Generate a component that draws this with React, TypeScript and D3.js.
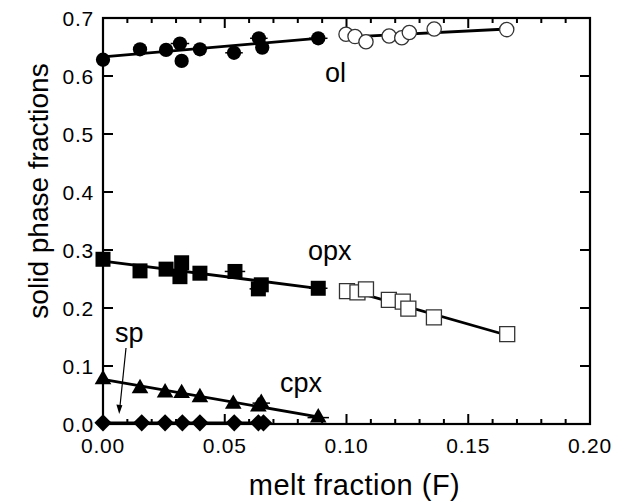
import React from "react";
import * as d3 from "d3";

// ---- data ----
const olFilledX = [0, 0.0152, 0.0259, 0.0316, 0.0323, 0.0398, 0.0538, 0.064, 0.0654, 0.0884];
const olFilledY = [0.628, 0.646, 0.645, 0.656, 0.626, 0.646, 0.64, 0.665, 0.649, 0.665];
const olFilledErr = [0, 0, 0, 0.0038, 0, 0, 0.0036, 0.0036, 0, 0.0038];
const olOpenX = [0.0998, 0.1035, 0.108, 0.1175, 0.1227, 0.1258, 0.136, 0.1658];
const olOpenY = [0.672, 0.668, 0.659, 0.669, 0.666, 0.675, 0.681, 0.68];

const opxFilledX = [0, 0.0152, 0.0259, 0.0323, 0.0316, 0.0398, 0.0542, 0.0638, 0.065, 0.0884];
const opxFilledY = [0.284, 0.264, 0.267, 0.278, 0.254, 0.26, 0.263, 0.233, 0.24, 0.234];
const opxFilledErr = [0, 0, 0, 0, 0, 0, 0.0042, 0.0036, 0, 0.0038];
const opxOpenX = [0.1002, 0.1045, 0.108, 0.1174, 0.1231, 0.1254, 0.1359, 0.166];
const opxOpenY = [0.229, 0.227, 0.232, 0.214, 0.211, 0.199, 0.184, 0.155];

const cpxX = [0, 0.0152, 0.0255, 0.0323, 0.0398, 0.0535, 0.0638, 0.065, 0.0884];
const cpxY = [0.077, 0.0615, 0.054, 0.053, 0.046, 0.0345, 0.03, 0.036, 0.011];
const cpxErr = [0, 0, 0, 0, 0, 0, 0, 0.0036, 0.0044];

const spX = [0, 0.0159, 0.0255, 0.0326, 0.0398, 0.0539, 0.0638, 0.0659];
const spY = [0.002, 0.002, 0.002, 0.002, 0.002, 0.002, 0.002, 0.002];

const olFitFilled: [number, number][] = [[0, 0.633], [0.088, 0.665]];
const olFitOpen: [number, number][] = [[0.1, 0.667], [0.166, 0.681]];
const opxFitFilled: [number, number][] = [[0, 0.281], [0.088, 0.234]];
const opxFitOpen: [number, number][] = [[0.1, 0.232], [0.166, 0.153]];
const cpxFit: [number, number][] = [[0, 0.077], [0.09, 0.011]];
const spFit: [number, number][] = [[0, 0.002], [0.066, 0.002]];

const xTicks = [0, 0.05, 0.1, 0.15, 0.2];
const xTickLabels = ["0.00", "0.05", "0.10", "0.15", "0.20"];
const yTicks = [0, 0.1, 0.2, 0.3, 0.4, 0.5, 0.6, 0.7];
const yTickLabels = ["0.0", "0.1", "0.2", "0.3", "0.4", "0.5", "0.6", "0.7"];

const xTitle = "melt fraction (F)";
const yTitle = "solid phase fractions";

// ---- layout ----
const W = 625, H = 502;
const L = 103, R = 590, T = 18, B = 424;
const FONT = "'Liberation Sans', Arial, Helvetica, sans-serif";

export default function App() {
  const x = d3.scaleLinear().domain([0, 0.2]).range([L, R]);
  const y = d3.scaleLinear().domain([0, 0.7]).range([B, T]);
  const line = d3.line<[number, number]>().x(d => x(d[0])).y(d => y(d[1]));

  const circ = d3.symbol(d3.symbolCircle, 160)()!;
  const sq = d3.symbol(d3.symbolSquare, 225)()!;
  const tri = d3.symbol(d3.symbolTriangle, 120)()!;
  const dia = d3.symbol(d3.symbolDiamond2, 190)()!;

  const minorX = d3.range(0, 21).map(i => i / 100);

  const errBars = (xs: number[], ys: number[], es: number[]) =>
    xs.map((v, i) =>
      es[i] > 0 ? (
        <line key={i} x1={x(v - es[i])} x2={x(v + es[i])} y1={y(ys[i])} y2={y(ys[i])}
          stroke="#000" strokeWidth={1.5} />
      ) : null
    );

  const markers = (xs: number[], ys: number[], path: string, fill: string, stroke = "none", sw = 0) =>
    xs.map((v, i) => (
      <path key={i} d={path} transform={`translate(${x(v)},${y(ys[i])})`} fill={fill}
        stroke={stroke} strokeWidth={sw} />
    ));

  return (
    <svg width={W} height={H} style={{ position: "absolute", left: 0, top: 0, background: "#fff" }}
      fontFamily={FONT}>
      <rect x={0} y={0} width={W} height={H} fill="#fff" />
      {/* ticks */}
      {minorX.map((t, i) => {
        const major = i % 5 === 0;
        const len = major ? 10 : 5;
        return (
          <g key={i}>
            <line x1={x(t)} x2={x(t)} y1={B} y2={B - len} stroke="#000" strokeWidth={2} />
            <line x1={x(t)} x2={x(t)} y1={T} y2={T + len} stroke="#000" strokeWidth={2} />
          </g>
        );
      })}
      {yTicks.map((t, i) => (
        <g key={i}>
          <line x1={L} x2={L + 10} y1={y(t)} y2={y(t)} stroke="#000" strokeWidth={2} />
          <line x1={R} x2={R - 10} y1={y(t)} y2={y(t)} stroke="#000" strokeWidth={2} />
          <text x={94} y={y(t) + 7.5} textAnchor="end" fontSize={21} letterSpacing={0.8}>
            {yTickLabels[i]}
          </text>
        </g>
      ))}
      {xTicks.map((t, i) => (
        <text key={i} x={x(t)} y={452.5} textAnchor="middle" fontSize={21} letterSpacing={0.8}>
          {xTickLabels[i]}
        </text>
      ))}
      <rect x={L} y={T} width={R - L} height={B - T} fill="none" stroke="#000" strokeWidth={2.2} />

      {/* fit lines */}
      {[olFitFilled, olFitOpen, opxFitFilled, opxFitOpen, cpxFit, spFit].map((d, i) => (
        <path key={i} d={line(d)!} fill="none" stroke="#000" strokeWidth={2.8} />
      ))}

      {/* error bars */}
      {errBars(olFilledX, olFilledY, olFilledErr)}
      {errBars(opxFilledX, opxFilledY, opxFilledErr)}
      {errBars(cpxX, cpxY, cpxErr)}

      {/* markers */}
      {markers(olFilledX, olFilledY, circ, "#000")}
      {markers(olOpenX, olOpenY, circ, "#fff", "#333", 1.3)}
      {markers(opxFilledX, opxFilledY, sq, "#000")}
      {markers(opxOpenX, opxOpenY, sq, "#fff", "#333", 1.3)}
      {markers(cpxX, cpxY, tri, "#000")}
      {markers(spX, spY, dia, "#000")}

      {/* annotations */}
      <text x={325} y={82} fontSize={27}>ol</text>
      <text x={308} y={260} fontSize={27}>opx</text>
      <text x={280} y={391.5} fontSize={27}>cpx</text>
      <text x={115} y={341.5} fontSize={27}>sp</text>
      <line x1={126} y1={348} x2={120} y2={406} stroke="#000" strokeWidth={1.2} />
      <path d="M119.2,414 L116.4,404.5 L122.4,405.2 Z" fill="#000" />

      {/* titles */}
      <text x={354.5} y={495} textAnchor="middle" fontSize={29} letterSpacing={0.5}>{xTitle}</text>
      <text transform={`translate(48,191) rotate(-90)`} textAnchor="middle" fontSize={28}>{yTitle}</text>
    </svg>
  );
}
